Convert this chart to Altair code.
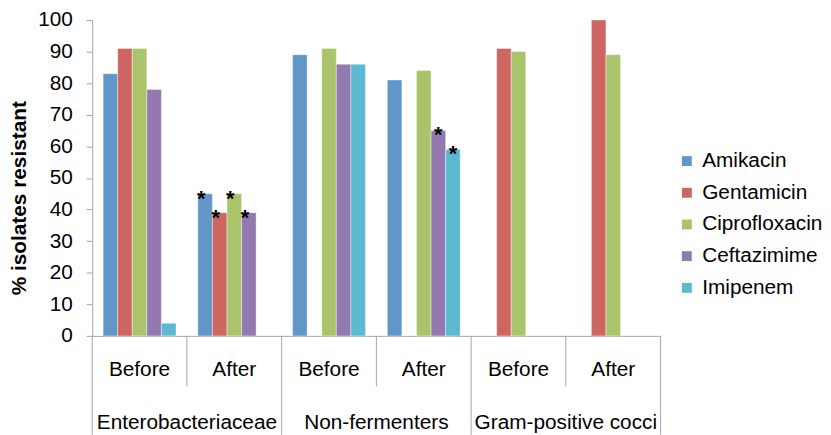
import altair as alt
import pandas as pd

# ---- data ----
groups = ["Enterobacteriaceae", "Non-fermenters", "Gram-positive cocci"]
periods = ["Before", "After"]
drugs = ["Amikacin", "Gentamicin", "Ciprofloxacin", "Ceftazimime", "Imipenem"]
colors = ["#6296C9", "#CD6560", "#AAC46B", "#927AB0", "#5BB9D1"]
y_ticks = [0, 10, 20, 30, 40, 50, 60, 70, 80, 90, 100]

# % isolates resistant, in drug order (None = no bar)
entero_before = [83, 91, 91, 78, 4]
entero_after = [45, 39, 45, 39, None]
nonferm_before = [89, None, 91, 86, 86]
nonferm_after = [81, None, 84, 65, 59]
gpc_before = [None, 91, 90, None, None]
gpc_after = [None, 100, 89, None, None]

# significance markers (*)
entero_after_sig = [True, True, True, True, False]
nonferm_after_sig = [False, False, False, True, True]
no_sig = [False] * 5

series = [
    ("Enterobacteriaceae", "Before", entero_before, no_sig),
    ("Enterobacteriaceae", "After", entero_after, entero_after_sig),
    ("Non-fermenters", "Before", nonferm_before, no_sig),
    ("Non-fermenters", "After", nonferm_after, nonferm_after_sig),
    ("Gram-positive cocci", "Before", gpc_before, no_sig),
    ("Gram-positive cocci", "After", gpc_after, no_sig),
]

rows = []
for g, p, vals, sigs in series:
    for d, v, s in zip(drugs, vals, sigs):
        if v is not None:
            rows.append({"group": g, "period": p, "key": f"{g}|{p}", "drug": d,
                         "value": v, "star": "*" if s else ""})
df = pd.DataFrame(rows)

keys = [f"{g}|{p}" for g in groups for p in periods]
before_keys = pd.DataFrame({"key": [f"{g}|Before" for g in groups], "group": groups})
end_key = pd.DataFrame({"key": [keys[-1]]})

W, H = 574, 319
GRAY = "#A6A6A6"
FONT = "Liberation Sans"

xscale = alt.Scale(domain=keys, paddingInner=0, paddingOuter=0)
offscale = alt.Scale(domain=drugs, paddingInner=0, paddingOuter=0.75)
yscale = alt.Scale(domain=[0, 100], nice=False)

x_axis = alt.Axis(title=None, labelExpr="split(datum.label, '|')[1]", ticks=False,
                  tickSize=0, domainColor=GRAY, labelPadding=34, labelBaseline="middle",
                  labelFontSize=21, labelColor="black", labelAngle=0)
y_axis = alt.Axis(title="% isolates resistant", values=y_ticks, tickCount=11, grid=False,
                  labelOverlap=False, tickSize=6, tickColor=GRAY, domainColor=GRAY,
                  labelFontSize=21, labelColor="black", labelPadding=14, titleFontSize=21,
                  titleFontWeight="bold", titleColor="black", titleAngle=270,
                  titleX=-67, titleY=179.5, titleBaseline="alphabetic", titleAlign="center")

bars = alt.Chart(df).mark_bar(stroke="white", strokeOpacity=0.5, strokeWidth=0.8).encode(
    x=alt.X("key:N", scale=xscale, axis=x_axis),
    xOffset=alt.XOffset("drug:N", scale=offscale),
    y=alt.Y("value:Q", scale=yscale, axis=y_axis),
    color=alt.Color("drug:N", scale=alt.Scale(domain=drugs, range=colors),
                    legend=alt.Legend(title=None, orient="none", legendX=590, legendY=132,
                                      symbolType="square", symbolSize=100, symbolStrokeWidth=0,
                                      labelFontSize=21, labelColor="black", labelOffset=5,
                                      rowPadding=10, padding=0)),
)

def stars(group, dx):
    return alt.Chart(df).transform_filter(
        (alt.datum.group == group) & (alt.datum.star != "")
    ).mark_text(fontSize=22, fontWeight="bold", baseline="alphabetic", dy=12, dx=dx,
                color="black").encode(
        x=alt.X("key:N", scale=xscale, axis=x_axis),
        xOffset=alt.XOffset("drug:N", scale=offscale),
        y=alt.Y("value:Q", scale=yscale, axis=y_axis),
        text="star:N",
    )

glabels = alt.Chart(before_keys).mark_text(fontSize=21, baseline="middle", color="black").encode(
    x=alt.X("key:N", scale=xscale, bandPosition=1, axis=x_axis),
    y=alt.value(H + 88),
    text="group:N",
)

inner_rules = alt.Chart(before_keys).mark_rule(color=GRAY, strokeWidth=1).encode(
    x=alt.X("key:N", scale=xscale, bandPosition=1, axis=x_axis),
    y=alt.value(H), y2=alt.value(H + 51),
)
outer_rules = alt.Chart(before_keys).mark_rule(color=GRAY, strokeWidth=1).encode(
    x=alt.X("key:N", scale=xscale, bandPosition=0, axis=x_axis),
    y=alt.value(H), y2=alt.value(H + 100),
)
end_rule = alt.Chart(end_key).mark_rule(color=GRAY, strokeWidth=1).encode(
    x=alt.X("key:N", scale=xscale, bandPosition=1, axis=x_axis),
    y=alt.value(H), y2=alt.value(H + 100),
)

chart = alt.layer(
    bars, stars("Enterobacteriaceae", -4), stars("Non-fermenters", 0),
    glabels, inner_rules, outer_rules, end_rule,
).properties(
    width=W, height=H,
    padding={"left": 85, "top": 10, "right": 164, "bottom": 98},
    autosize=alt.AutoSizeParams(type="none"),
).configure(font=FONT).configure_view(strokeWidth=0).configure_axisY(
    labelOverlap=False, tickCount=11
)

chart.save("out.html", embed_options={"renderer": "svg", "actions": False})
